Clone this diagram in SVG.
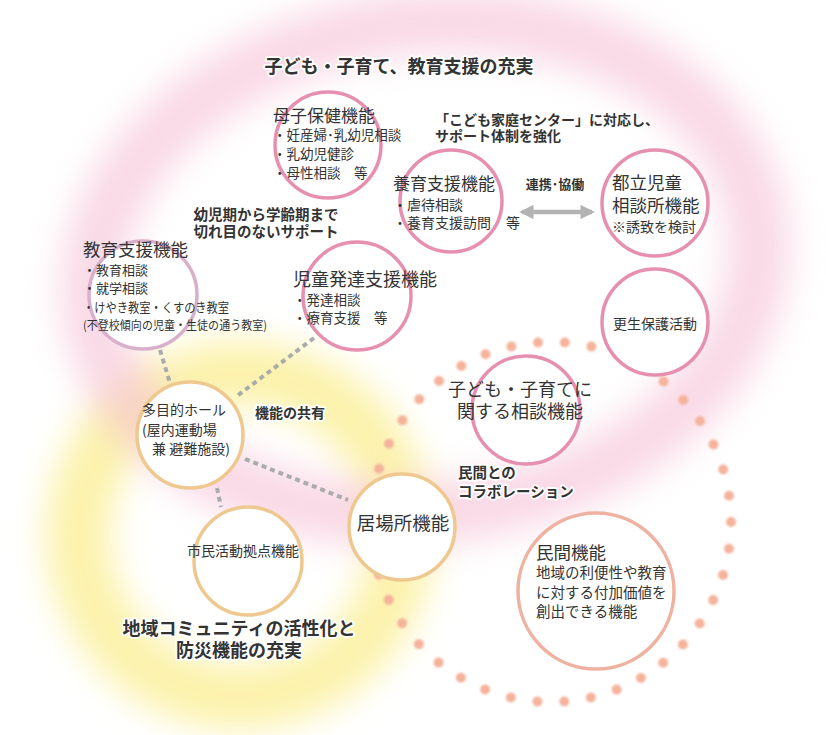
<svg xmlns="http://www.w3.org/2000/svg" width="826" height="735" viewBox="0 0 826 735">
<defs>
<filter id="blurBig" x="-30%" y="-30%" width="160%" height="160%"><feGaussianBlur stdDeviation="17"/></filter>
<filter id="blurDot" x="-10%" y="-10%" width="120%" height="120%"><feGaussianBlur stdDeviation="0.9"/></filter>
<marker id="ah" viewBox="0 0 10 10" refX="8" refY="5" markerWidth="3.2" markerHeight="3.2" orient="auto-start-reverse"><path d="M0,0 L10,5 L0,10 z" fill="#b3b3b3"/></marker>
<style>
text{font-family:"Noto Sans CJK JP","Noto Sans CJK SC",sans-serif;fill:#333;}
.pk{fill:#fff;stroke:#e78fb0;stroke-width:3.5;}
.pl{fill:#fff;stroke:#d9b0cb;stroke-width:3.5;}
.tn{fill:#fff;stroke:#efc88f;stroke-width:3.5;}
.sl{fill:#fff;stroke:#efb2a0;stroke-width:3.5;}
.b{font-weight:bold;stroke:#fff;stroke-width:3.5;paint-order:stroke;stroke-linejoin:round;}
.dash{stroke:#ababab;stroke-width:4;stroke-dasharray:5 4;fill:none;}
</style>
</defs>
<rect width="826" height="735" fill="#fff"/>
<g id="glows">
<circle cx="240" cy="535" r="162" fill="none" stroke="#fbf09c" stroke-width="64" filter="url(#blurBig)" opacity="0.85"/>
<ellipse cx="425" cy="268" rx="335" ry="245" transform="rotate(-8 425 268)" fill="none" stroke="#f5c0d6" stroke-width="62" filter="url(#blurBig)" opacity="0.6"/>
<circle cx="551" cy="522" r="180" fill="none" stroke="#f5b39c" stroke-width="10" stroke-linecap="round" stroke-dasharray="0 26.93" filter="url(#blurDot)"/>
</g>
<g id="connectors">
<line class="dash" x1="160" y1="350" x2="170" y2="383"/>
<line class="dash" x1="314" y1="338" x2="237" y2="396"/>
<line class="dash" x1="245" y1="459" x2="348" y2="500"/>
<line class="dash" x1="217" y1="488" x2="221" y2="507"/>
<line x1="522" y1="212" x2="592" y2="212" stroke="#b3b3b3" stroke-width="4.5" marker-start="url(#ah)" marker-end="url(#ah)"/>
</g>
<g id="n-boshi"><circle class="pk" cx="328" cy="145" r="53"/>
<text font-size="13.5"><tspan x="273" y="122" font-size="17">母子保健機能</tspan><tspan x="273" y="140">・妊産婦･乳幼児相談</tspan><tspan x="273" y="159">・乳幼児健診</tspan><tspan x="273" y="178">・母性相談　等</tspan></text></g>
<g id="n-youiku"><circle class="pk" cx="451" cy="201" r="51"/>
<text font-size="14"><tspan x="393" y="190" font-size="17">養育支援機能</tspan><tspan x="393" y="210">・虐待相談</tspan><tspan x="393" y="228">・養育支援訪問</tspan><tspan x="506" y="228">等</tspan></text></g>
<g id="n-toritsu"><circle class="pk" cx="655" cy="203" r="53"/>
<text font-size="17.5"><tspan x="612" y="189">都立児童</tspan><tspan x="612" y="212">相談所機能</tspan><tspan x="612" y="232" font-size="14">※誘致を検討</tspan></text></g>
<g id="n-kousei"><circle class="pk" cx="655" cy="322" r="53"/>
<text x="655" y="329" font-size="14" text-anchor="middle">更生保護活動</text></g>
<g id="n-kyouiku"><circle class="pl" cx="143" cy="295" r="54"/>
<text font-size="13"><tspan x="83" y="256" font-size="17.5">教育支援機能</tspan><tspan x="83" y="275">・教育相談</tspan><tspan x="83" y="293">・就学相談</tspan><tspan x="83" y="312" textLength="146" lengthAdjust="spacingAndGlyphs">・けやき教室・くすのき教室</tspan><tspan x="83" y="330" font-size="12" textLength="184" lengthAdjust="spacingAndGlyphs">(不登校傾向の児童・生徒の通う教室)</tspan></text></g>
<g id="n-jidou"><circle class="pk" cx="357" cy="296" r="54"/>
<text font-size="13.5"><tspan x="293" y="286" font-size="18">児童発達支援機能</tspan><tspan x="293" y="305">・発達相談</tspan><tspan x="293" y="323">・療育支援　等</tspan></text></g>
<g id="n-soudan"><circle class="pk" cx="526" cy="410" r="54"/>
<text font-size="18" text-anchor="middle"><tspan x="520" y="396">子ども・子育てに</tspan><tspan x="520" y="418">関する相談機能</tspan></text></g>
<g id="n-hall"><circle class="tn" cx="190" cy="435" r="53"/>
<text font-size="14"><tspan x="142" y="415">多目的ホール</tspan><tspan x="142" y="435">(屋内運動場</tspan><tspan x="152" y="454">兼 避難施設)</tspan></text></g>
<g id="n-shimin"><circle class="tn" cx="248" cy="561" r="54"/>
<text x="243" y="556" font-size="14" text-anchor="middle">市民活動拠点機能</text></g>
<g id="n-ibasho"><circle class="tn" cx="402" cy="527" r="53"/>
<text x="403" y="530" font-size="18.5" text-anchor="middle">居場所機能</text></g>
<g id="n-minkan"><circle class="sl" cx="596" cy="591" r="78"/>
<text font-size="14.5"><tspan x="536" y="559" font-size="17.5">民間機能</tspan><tspan x="536" y="578">地域の利便性や教育</tspan><tspan x="536" y="598">に対する付加価値を</tspan><tspan x="536" y="617">創出できる機能</tspan></text></g>
<g id="labels">
<text class="b" x="399" y="73" font-size="18" text-anchor="middle">子ども・子育て、教育支援の充実</text>
<text class="b" font-size="14"><tspan x="435" y="125">「こども家庭センター」に対応し、</tspan><tspan x="435" y="141">サポート体制を強化</tspan></text>
<text class="b" x="555" y="189" font-size="13" text-anchor="middle">連携･協働</text>
<text class="b" font-size="14.5" text-anchor="middle"><tspan x="266" y="220">幼児期から学齢期まで</tspan><tspan x="266" y="237">切れ目のないサポート</tspan></text>
<text class="b" x="255" y="418" font-size="14">機能の共有</text>
<text class="b" font-size="14.5"><tspan x="458" y="478">民間との</tspan><tspan x="458" y="497">コラボレーション</tspan></text>
<text class="b" font-size="18" text-anchor="middle"><tspan x="239" y="635">地域コミュニティの活性化と</tspan><tspan x="239" y="657">防災機能の充実</tspan></text>
</g>
</svg>
